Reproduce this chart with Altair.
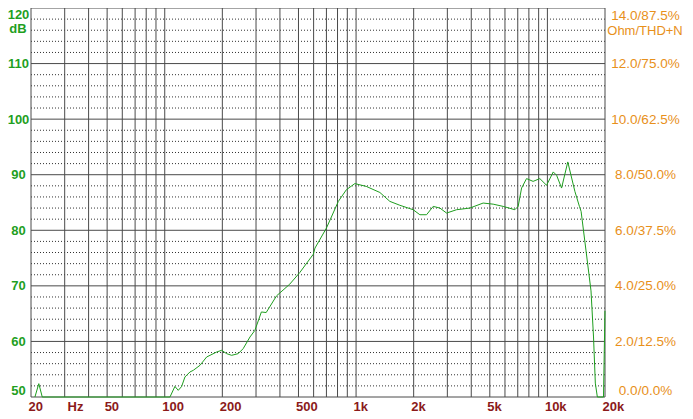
import altair as alt
import pandas as pd

# measured response (frequency in Hz, level in dB)
freq_hz = [20.97, 21.97, 22.9, 106.5, 113, 117.7, 122.6, 127.5, 135.4, 141,
           152.8, 165.6, 186.9, 198.3, 210.6, 223.7, 242, 257, 279, 296,
           320, 339, 384, 450, 508, 598, 610, 700, 808, 890,
           985, 1130, 1332, 1502, 1694, 1988, 2155, 2336, 2530, 2742,
           2972, 3350, 3934, 4614, 5206, 5870, 6758, 7032, 7330, 7780,
           8420, 9130, 9900, 10730, 11170, 11860, 12780, 13920, 14700, 15000,
           15920, 16900, 17420, 17800, 18240, 19640, 19990]
level_db = [50.0, 52.4, 50.0, 50.0, 51.9, 51.2, 51.9, 53.6, 54.5, 54.8,
            55.7, 57.2, 58.1, 58.4, 57.8, 57.5, 57.8, 58.7, 60.8, 62.0,
            65.3, 65.2, 68.2, 70.3, 72.4, 75.7, 76.8, 80.4, 85.2, 87.3,
            88.4, 87.9, 86.8, 85.2, 84.5, 83.7, 82.8, 82.8, 84.3, 84.0,
            83.1, 83.7, 84.0, 84.9, 84.7, 84.3, 83.7, 84.3, 87.6, 89.3,
            88.8, 89.3, 88.1, 90.5, 89.9, 87.6, 92.3, 87.0, 84.3, 83.4,
            76.3, 69.1, 60.8, 52.5, 50.0, 50.0, 65.5]

# grid and axis definitions
grid_freqs = [20, 30, 40, 50, 60, 70, 80, 90,
              100, 200, 300, 400, 500, 600, 700, 800, 900,
              1000, 2000, 3000, 4000, 5000, 6000, 7000, 8000, 9000,
              10000, 20000]
major_db = [50, 60, 70, 80, 90, 100, 110, 120]
minor_db = [52, 54, 56, 58, 62, 64, 66, 68, 72, 74, 76, 78, 82, 84, 86, 88,
            92, 94, 96, 98, 102, 104, 106, 108, 112, 114, 116, 118]
x_tick_values = [20, 32, 50, 100, 200, 500, 1000, 2000, 5000, 10000, 20000]
x_tick_labels = ["20", "Hz", "50", "100", "200", "500", "1k", "2k", "5k", "10k", "20k"]
right_labels = ["0.0/0.0%", "2.0/12.5%", "4.0/25.0%", "6.0/37.5%", "8.0/50.0%",
                "10.0/62.5%", "12.0/75.0%", "14.0/87.5%"]


def label_expr(values, labels):
    expr = "''"
    for v, l in reversed(list(zip(values, labels))):
        expr = f"datum.value == {v} ? '{l}' : ({expr})"
    return expr


FONT = "Liberation Sans"
GREEN = "#1f9f1f"
RED = "#8b1a1a"
ORANGE = "#e8901a"
GRID = "#4a4a4a"

curve_df = pd.DataFrame({"f": freq_hz, "db": level_db})
xscale = alt.Scale(type="log", domain=[20, 20000], nice=False)
yscale = alt.Scale(domain=[50, 120], nice=False, zero=False)

x_axis = alt.Axis(values=x_tick_values, ticks=False, grid=False, domain=False,
                  labelAlign="left", labelOffset=-3, labelPadding=3,
                  labelBaseline="top", labelFlush=False, labelOverlap=False,
                  labelExpr=label_expr(x_tick_values, x_tick_labels),
                  labelColor=RED, labelFont=FONT, labelFontSize=13,
                  labelFontWeight="bold", title=None)

minor = alt.Chart(pd.DataFrame({"db": minor_db})).mark_rule(
    color="#333333", strokeWidth=1, strokeDash=[1, 2]
).encode(y=alt.Y("db:Q", scale=yscale, axis=None))

major = alt.Chart(pd.DataFrame({"db": major_db})).mark_rule(
    color=GRID, strokeWidth=1
).encode(y=alt.Y("db:Q", scale=yscale,
                 axis=alt.Axis(orient="right", values=major_db, ticks=False, grid=False,
                               domain=False, labelAlign="center", labelPadding=40,
                               labelFlush=True,
                               labelExpr=label_expr(major_db, right_labels),
                               labelColor=ORANGE, labelFont=FONT, labelFontSize=13.5,
                               labelOverlap=False, title=None)))

vert = alt.Chart(pd.DataFrame({"f": grid_freqs})).mark_rule(
    color=GRID, strokeWidth=1
).encode(x=alt.X("f:Q", scale=xscale, axis=x_axis))

curve = alt.Chart(curve_df).mark_line(color="#1e9e1e", strokeWidth=1).encode(
    x=alt.X("f:Q", scale=xscale, axis=x_axis),
    y=alt.Y("db:Q", scale=yscale,
            axis=alt.Axis(orient="left", values=major_db, ticks=False, grid=False,
                          domain=False, labelAlign="center", labelPadding=13,
                          labelFlush=True, labelOverlap=False,
                          labelColor=GREEN, labelFont=FONT, labelFontSize=13,
                          labelFontWeight="bold", title=None)),
    order="f:Q",
)

db_text = alt.Chart(pd.DataFrame({"t": ["dB"]})).mark_text(
    font=FONT, fontSize=13, fontWeight="bold", color=GREEN,
    align="center", baseline="middle"
).encode(text="t:N", x=alt.value(-13), y=alt.value(21))

ohm_text = alt.Chart(pd.DataFrame({"t": ["Ohm/THD+N"]})).mark_text(
    font=FONT, fontSize=13, color=ORANGE, align="center", baseline="middle"
).encode(text="t:N", x=alt.value(614), y=alt.value(23))

chart = alt.layer(minor, major, vert, curve, db_text, ohm_text).resolve_axis(
    y="independent"
).properties(
    width=574, height=389,
    autosize=alt.AutoSizeParams(type="none"),
    padding={"left": 23, "top": 0, "right": 80, "bottom": 20},
    background="white",
).configure_view(stroke=None)

chart.save("out.html", embed_options={"renderer": "svg", "actions": False})
